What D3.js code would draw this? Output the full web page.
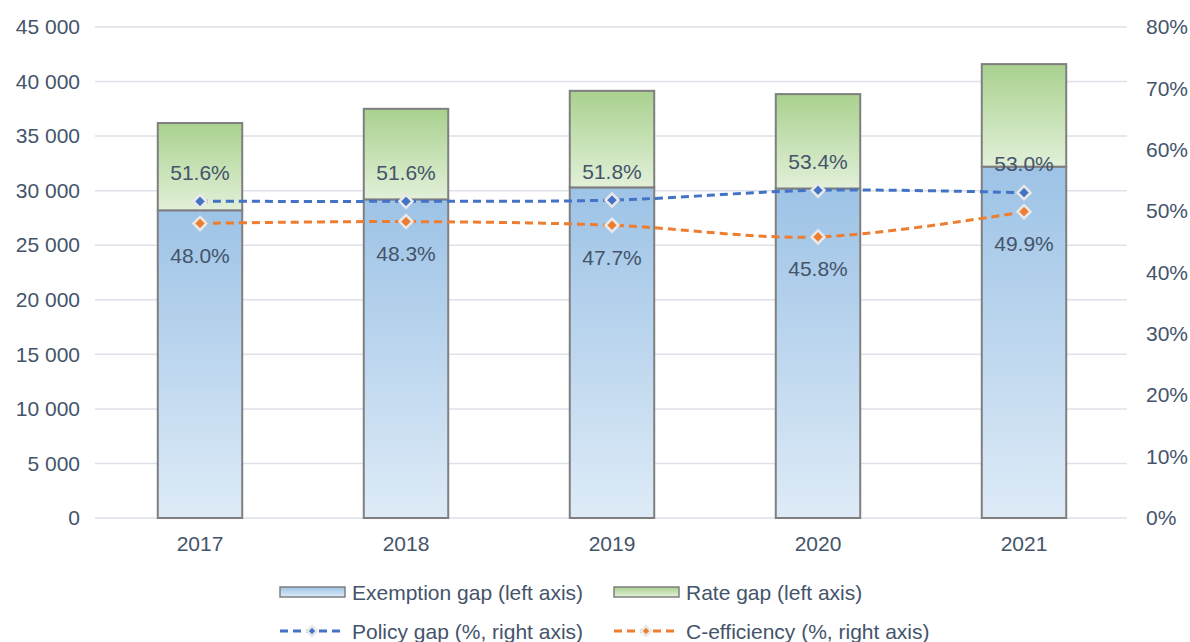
<!DOCTYPE html>
<html>
<head>
<meta charset="utf-8">
<script src="https://cdn.jsdelivr.net/npm/d3@7"></script>
<style>
  body { margin: 0; background: #fff; }
  svg { font-family: "Liberation Sans", Arial, sans-serif; }
</style>
</head>
<body>
<svg id="chart"></svg>
<script>
// Chart data
const years = ['2017', '2018', '2019', '2020', '2021'];
const exemptionGap = [28200, 29200, 30300, 30200, 32200];
const rateGap = [8000, 8300, 8850, 8650, 9400];
const policyGap = [51.6, 51.6, 51.8, 53.4, 53.0];
const cEfficiency = [48.0, 48.3, 47.7, 45.8, 49.9];
const leftTicks = [0, 5000, 10000, 15000, 20000, 25000, 30000, 35000, 40000, 45000];
const rightTicks = [0, 10, 20, 30, 40, 50, 60, 70, 80];

const width = 1190;
const height = 642;
const textColor = '#44546a';
const fontSize = 21;

let svg = d3.select('#chart')
    .attr('width', width)
    .attr('height', height);

// Gradients for the bars
let defs = svg.append('defs');
function addGradient(id, top, bottom) {
    let g = defs.append('linearGradient')
        .attr('id', id)
        .attr('x1', 0).attr('y1', 0).attr('x2', 0).attr('y2', 1);
    g.append('stop').attr('offset', '0%').attr('stop-color', top);
    g.append('stop').attr('offset', '100%').attr('stop-color', bottom);
}
addGradient('blueGrad', '#9dc3e6', '#deebf7');
addGradient('greenGrad', '#a9d18e', '#e2f0d9');

// Scales
let x = d3.scaleBand()
    .domain(years)
    .range([97, 1127])
    .paddingInner(0.59)
    .paddingOuter(0.295);

let yLeft = d3.scaleLinear()
    .domain([0, 45000])
    .range([518, 27]);

let yRight = d3.scaleLinear()
    .domain([0, 80])
    .range([518, 27]);

// Gridlines
svg.append('g')
    .selectAll('line')
    .data(leftTicks)
    .enter()
    .append('line')
    .attr('x1', 95)
    .attr('x2', 1127)
    .attr('y1', d => yLeft(d))
    .attr('y2', d => yLeft(d))
    .attr('stroke', '#dde2ea')
    .attr('stroke-width', 1.5);

// Left axis labels
let leftAxis = svg.append('g')
    .attr('transform', 'translate(80,0)')
    .call(d3.axisLeft(yLeft).tickValues(leftTicks).tickSize(0)
        .tickFormat(d => d3.format(',')(d).replace(/,/g, ' ')));
leftAxis.select('.domain').remove();
leftAxis.selectAll('text')
    .attr('x', 0)
    .attr('font-size', fontSize)
    .attr('font-family', '"Liberation Sans", Arial, sans-serif')
    .attr('fill', textColor);

// Right axis labels
let rightAxis = svg.append('g')
    .attr('transform', 'translate(1146,0)')
    .call(d3.axisRight(yRight).tickValues(rightTicks).tickSize(0)
        .tickFormat(d => d + '%'));
rightAxis.select('.domain').remove();
rightAxis.selectAll('text')
    .attr('x', 0)
    .attr('font-size', fontSize)
    .attr('font-family', '"Liberation Sans", Arial, sans-serif')
    .attr('fill', textColor);

// Bottom axis labels
let bottomAxis = svg.append('g')
    .attr('transform', 'translate(0,530)')
    .call(d3.axisBottom(x).tickSize(0));
bottomAxis.select('.domain').remove();
bottomAxis.selectAll('text')
    .attr('y', 6)
    .attr('font-size', fontSize)
    .attr('font-family', '"Liberation Sans", Arial, sans-serif')
    .attr('fill', textColor);

// Stacked bars
let bars = svg.append('g');
bars.selectAll('rect.exemption')
    .data(years)
    .enter()
    .append('rect')
    .attr('class', 'exemption')
    .attr('x', d => x(d))
    .attr('y', (d, i) => yLeft(exemptionGap[i]))
    .attr('width', x.bandwidth())
    .attr('height', (d, i) => yLeft(0) - yLeft(exemptionGap[i]))
    .attr('fill', 'url(#blueGrad)')
    .attr('stroke', '#7f7f7f')
    .attr('stroke-width', 2);

bars.selectAll('rect.rate')
    .data(years)
    .enter()
    .append('rect')
    .attr('class', 'rate')
    .attr('x', d => x(d))
    .attr('y', (d, i) => yLeft(exemptionGap[i] + rateGap[i]))
    .attr('width', x.bandwidth())
    .attr('height', (d, i) => yLeft(exemptionGap[i]) - yLeft(exemptionGap[i] + rateGap[i]))
    .attr('fill', 'url(#greenGrad)')
    .attr('stroke', '#7f7f7f')
    .attr('stroke-width', 2);

// Lines on the right axis
const cx = d => x(d) + x.bandwidth() / 2;
function diamond(r) {
    return 'M0,' + (-r) + 'L' + r + ',0L0,' + r + 'L' + (-r) + ',0Z';
}

function drawSeries(values, color, labelOffset) {
    let line = d3.line()
        .x((d, i) => cx(years[i]))
        .y(d => yRight(d))
        .curve(d3.curveCatmullRom.alpha(0.5));

    svg.append('path')
        .datum(values)
        .attr('d', line)
        .attr('fill', 'none')
        .attr('stroke', color)
        .attr('stroke-width', 3)
        .attr('stroke-dasharray', '8,5');

    svg.append('g')
        .selectAll('path')
        .data(values)
        .enter()
        .append('path')
        .attr('d', diamond(6.5))
        .attr('transform', (d, i) => 'translate(' + cx(years[i]) + ',' + yRight(d) + ')')
        .attr('fill', color)
        .attr('stroke', '#e9e9e9')
        .attr('stroke-width', 2.5);

    svg.append('g')
        .selectAll('text')
        .data(values)
        .enter()
        .append('text')
        .attr('x', (d, i) => cx(years[i]))
        .attr('y', d => yRight(d) + labelOffset)
        .attr('text-anchor', 'middle')
        .attr('dominant-baseline', 'central')
        .attr('font-size', fontSize)
        .attr('fill', textColor)
        .text(d => d.toFixed(1) + '%');
}

drawSeries(policyGap, '#4472c4', -29);
drawSeries(cEfficiency, '#ed7d31', 32);

// Legend
let legend = svg.append('g');
const legendItems = [
    {label: 'Exemption gap (left axis)', type: 'bar', fill: 'url(#blueGrad)', x: 280, y: 592},
    {label: 'Rate gap (left axis)', type: 'bar', fill: 'url(#greenGrad)', x: 614, y: 592},
    {label: 'Policy gap (%, right axis)', type: 'line', color: '#4472c4', x: 280, y: 631},
    {label: 'C-efficiency (%, right axis)', type: 'line', color: '#ed7d31', x: 614, y: 631}
];

legendItems.forEach(item => {
    if (item.type === 'bar') {
        legend.append('rect')
            .attr('x', item.x)
            .attr('y', item.y - 5)
            .attr('width', 65)
            .attr('height', 10)
            .attr('fill', item.fill)
            .attr('stroke', '#7f7f7f')
            .attr('stroke-width', 1.5);
    } else {
        legend.append('line')
            .attr('x1', item.x)
            .attr('x2', item.x + 65)
            .attr('y1', item.y)
            .attr('y2', item.y)
            .attr('stroke', item.color)
            .attr('stroke-width', 3)
            .attr('stroke-dasharray', '8,5');
        legend.append('path')
            .attr('d', diamond(5))
            .attr('transform', 'translate(' + (item.x + 32) + ',' + item.y + ')')
            .attr('fill', item.color)
            .attr('stroke', '#e9e9e9')
            .attr('stroke-width', 2.5);
    }
    legend.append('text')
        .attr('x', item.x + 72)
        .attr('y', item.y)
        .attr('dominant-baseline', 'central')
        .attr('font-size', fontSize)
        .attr('fill', textColor)
        .text(item.label);
});
</script>
</body>
</html>
